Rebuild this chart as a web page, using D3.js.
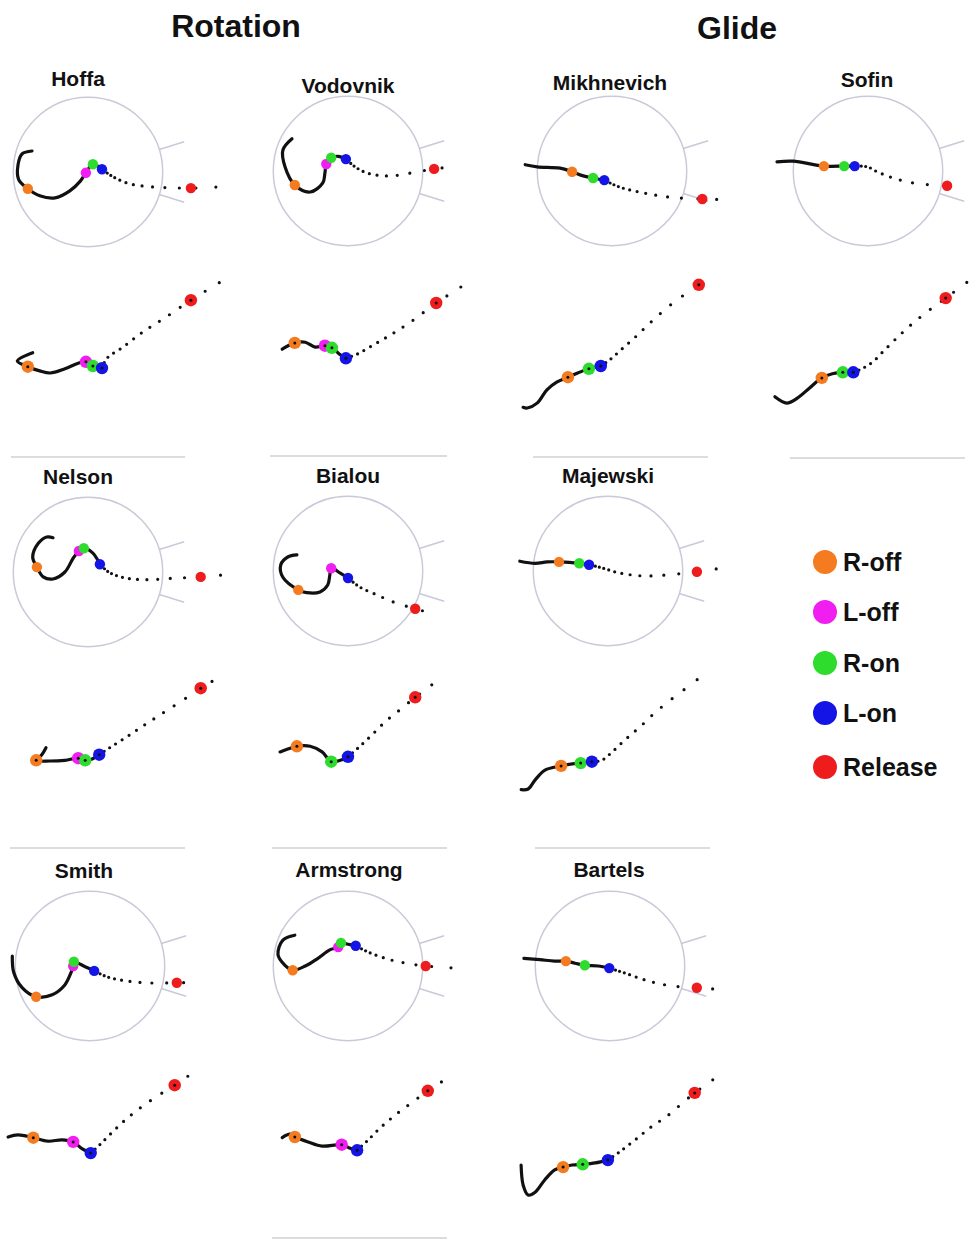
<!DOCTYPE html>
<html>
<head>
<meta charset="utf-8">
<script src="https://cdn.jsdelivr.net/npm/d3@7"></script>
<style>
  body { margin: 0; background: #fff; }
  text { font-family: "Liberation Sans", Arial, sans-serif; font-weight: bold; fill: #111; }
</style>
</head>
<body>
<svg id="chart" width="970" height="1240"></svg>
<script>
// events marked on every trajectory
const eventNames = ["R-off", "L-off", "R-on", "L-on", "Release"];
const eventColors = ["#f47b20", "#f01ef0", "#2ddc2d", "#1414e6", "#ee1c1c"];

const groups = ["Rotation", "Glide"];
const athletes = ["Hoffa", "Vodovnik", "Mikhnevich", "Sofin", "Nelson", "Bialou",
                  "Majewski", "Smith", "Armstrong", "Bartels"];

// shot path, top view: [forward (m), lateral (m)] from the circle centre
const hoffaTop = [[-0.80,-0.30],[-0.94,-0.26],[-1.00,-0.10],[-0.99,0.11],[-0.86,0.24],[-0.69,0.34],[-0.47,0.37],[-0.26,0.27],[-0.11,0.13],[-0.03,0.01],[0.07,-0.11],[0.20,-0.04],[0.36,0.07],[0.60,0.17],[0.89,0.21],[1.47,0.23],[1.91,0.21]];
const vodovnikTop = [[-0.80,-0.46],[-0.93,-0.30],[-0.90,-0.06],[-0.76,0.20],[-0.54,0.30],[-0.36,0.17],[-0.33,0.03],[-0.31,-0.10],[-0.24,-0.19],[-0.14,-0.21],[-0.03,-0.17],[0.13,-0.04],[0.31,0.04],[0.60,0.07],[0.89,0.03],[1.23,-0.03],[1.61,-0.07]];
const mikhnevichTop = [[-1.24,-0.09],[-1.07,-0.06],[-0.74,-0.04],[-0.57,0.01],[-0.41,0.07],[-0.27,0.10],[-0.11,0.13],[0.11,0.23],[0.44,0.31],[0.79,0.37],[1.29,0.40],[1.66,0.41]];
const sofinTop = [[-1.30,-0.13],[-1.07,-0.14],[-0.63,-0.07],[-0.34,-0.07],[-0.19,-0.07],[-0.01,-0.06],[0.13,0.01],[0.36,0.10],[0.64,0.17],[0.93,0.20],[1.13,0.21],[1.31,0.23]];
const nelsonTop = [[-0.50,-0.49],[-0.59,-0.50],[-0.71,-0.41],[-0.79,-0.21],[-0.73,-0.07],[-0.64,0.07],[-0.50,0.10],[-0.33,0.00],[-0.21,-0.20],[-0.13,-0.30],[-0.06,-0.34],[0.07,-0.27],[0.14,-0.17],[0.17,-0.11],[0.31,0.01],[0.56,0.09],[0.84,0.11],[1.21,0.09],[1.61,0.07],[2.06,0.03]];
const bialouTop = [[-0.73,-0.23],[-0.86,-0.20],[-0.96,-0.09],[-0.93,0.09],[-0.71,0.27],[-0.59,0.31],[-0.40,0.30],[-0.29,0.20],[-0.26,0.06],[-0.24,-0.04],[-0.11,0.03],[0.00,0.10],[0.17,0.23],[0.41,0.34],[0.64,0.44],[0.96,0.54],[1.31,0.63]];
const majewskiTop = [[-1.26,-0.14],[-1.04,-0.11],[-0.87,-0.13],[-0.70,-0.13],[-0.41,-0.11],[-0.27,-0.09],[-0.07,-0.04],[0.17,0.03],[0.50,0.07],[0.79,0.06],[1.27,0.01],[1.61,-0.04]];
const smithTop = [[-1.11,-0.14],[-1.09,0.09],[-0.97,0.31],[-0.77,0.44],[-0.54,0.41],[-0.36,0.27],[-0.27,0.09],[-0.24,0.00],[-0.23,-0.06],[-0.09,0.00],[0.06,0.07],[0.26,0.16],[0.50,0.21],[0.79,0.24],[1.24,0.24],[1.61,0.23]];
const armstrongTop = [[-0.76,-0.44],[-0.93,-0.37],[-1.00,-0.16],[-0.90,-0.01],[-0.79,0.06],[-0.61,0.00],[-0.43,-0.11],[-0.26,-0.23],[-0.14,-0.27],[-0.10,-0.33],[0.00,-0.31],[0.11,-0.29],[0.31,-0.19],[0.60,-0.09],[0.89,-0.03],[1.11,0.00],[1.53,0.03]];
const bartelsTop = [[-1.23,-0.11],[-1.00,-0.09],[-0.79,-0.07],[-0.63,-0.07],[-0.50,-0.04],[-0.36,-0.01],[-0.17,0.00],[-0.01,0.03],[0.21,0.10],[0.50,0.20],[0.79,0.27],[1.03,0.30],[1.24,0.31],[1.60,0.34]];

// shot path, side view: [forward (m), height (m)]
const hoffaSide = [[-0.79,1.39],[-1.01,1.27],[-0.86,1.19],[-0.69,1.13],[-0.54,1.10],[-0.33,1.16],[-0.14,1.24],[-0.03,1.26],[0.07,1.20],[0.20,1.17],[0.27,1.31],[0.50,1.47],[0.76,1.67],[1.10,1.89],[1.47,2.14],[1.89,2.40]];
const vodovnikSide = [[-0.94,1.44],[-0.76,1.53],[-0.61,1.54],[-0.47,1.47],[-0.33,1.49],[-0.23,1.46],[-0.11,1.36],[-0.03,1.31],[0.13,1.37],[0.36,1.50],[0.60,1.64],[0.91,1.84],[1.26,2.10],[1.63,2.34]];
const mikhnevichSide = [[-1.27,0.61],[-1.21,0.60],[-1.07,0.67],[-0.93,0.86],[-0.79,0.97],[-0.63,1.04],[-0.49,1.10],[-0.33,1.16],[-0.16,1.20],[-0.03,1.29],[0.16,1.46],[0.33,1.61],[0.57,1.84],[0.87,2.10],[1.24,2.36]];
const sofinSide = [[-1.33,0.76],[-1.16,0.67],[-1.01,0.74],[-0.83,0.89],[-0.66,1.03],[-0.51,1.09],[-0.36,1.11],[-0.21,1.11],[-0.07,1.17],[0.07,1.26],[0.21,1.40],[0.40,1.59],[0.64,1.81],[0.93,2.04],[1.11,2.17],[1.46,2.43]];
const nelsonSide = [[-0.60,1.39],[-0.66,1.29],[-0.74,1.21],[-0.54,1.20],[-0.33,1.21],[-0.14,1.24],[-0.04,1.21],[0.06,1.23],[0.16,1.29],[0.31,1.39],[0.53,1.53],[0.74,1.67],[1.03,1.86],[1.31,2.04],[1.61,2.24],[1.83,2.37]];
const bialouSide = [[-0.97,1.33],[-0.86,1.37],[-0.73,1.41],[-0.54,1.41],[-0.37,1.33],[-0.24,1.19],[-0.11,1.21],[0.00,1.26],[0.17,1.41],[0.34,1.57],[0.53,1.76],[0.74,1.93],[0.96,2.11],[1.14,2.24],[1.31,2.39]];
const majewskiSide = [[-1.24,0.79],[-1.14,0.80],[-1.04,0.93],[-0.90,1.07],[-0.67,1.13],[-0.51,1.16],[-0.39,1.17],[-0.23,1.19],[-0.09,1.21],[0.06,1.33],[0.24,1.50],[0.46,1.69],[0.67,1.89],[0.89,2.07],[1.10,2.23],[1.31,2.39]];
const smithSide = [[-1.17,1.40],[-1.03,1.43],[-0.81,1.39],[-0.60,1.34],[-0.40,1.36],[-0.24,1.33],[-0.11,1.23],[0.01,1.17],[0.14,1.29],[0.31,1.46],[0.50,1.64],[0.71,1.81],[0.97,1.99],[1.21,2.14],[1.43,2.29]];
const armstrongSide = [[-0.94,1.39],[-0.83,1.44],[-0.76,1.40],[-0.57,1.33],[-0.37,1.27],[-0.09,1.29],[0.03,1.24],[0.13,1.21],[0.29,1.36],[0.46,1.53],[0.67,1.71],[0.91,1.89],[1.14,2.06],[1.34,2.19],[1.53,2.31]];
const bartelsSide = [[-1.27,1.00],[-1.24,0.71],[-1.17,0.57],[-1.07,0.61],[-0.93,0.79],[-0.79,0.93],[-0.67,0.97],[-0.54,1.00],[-0.39,1.01],[-0.21,1.03],[-0.03,1.07],[0.14,1.19],[0.36,1.36],[0.57,1.53],[0.83,1.71],[1.04,1.89],[1.21,2.03],[1.60,2.31]];

// index of each event (R-off, L-off, R-on, L-on, Release) in the paths; null = not shown
const topEvents = [[4,9,10,11,15],[3,7,8,10,15],[3,null,5,6,10],[2,null,3,4,10],[4,9,10,13,18],
                   [4,9,null,11,15],[3,null,4,5,10],[3,7,8,10,14],[4,8,9,11,15],[3,null,5,7,12]];
const sideEvents = [[2,7,8,9,14],[1,4,5,7,12],[5,null,7,8,14],[4,null,6,7,14],[2,5,6,8,14],
                    [2,null,5,7,12],[4,null,6,7,null],[2,5,null,7,13],[2,5,null,7,12],[6,null,8,10,16]];

const topPaths = [hoffaTop, vodovnikTop, mikhnevichTop, sofinTop, nelsonTop, bialouTop,
                  majewskiTop, smithTop, armstrongTop, bartelsTop];
const sidePaths = [hoffaSide, vodovnikSide, mikhnevichSide, sofinSide, nelsonSide, bialouSide,
                   majewskiSide, smithSide, armstrongSide, bartelsSide];

const circleRadius = 1.0675;   // m
const sectorHalf = 17.46;      // deg

// ---- layout ----
const pxPerM = 70;
const panels = [
  { cx: 88,  cy: 172, gy: 450,  nx: 78,  ny: 86 },
  { cx: 348, cy: 171, gy: 450,  nx: 348, ny: 93 },
  { cx: 612, cy: 171, gy: 450,  nx: 610, ny: 90 },
  { cx: 868, cy: 171, gy: 450,  nx: 867, ny: 87 },
  { cx: 88,  cy: 572, gy: 845,  nx: 78,  ny: 484 },
  { cx: 348, cy: 571, gy: 845,  nx: 348, ny: 483 },
  { cx: 608, cy: 571, gy: 845,  nx: 608, ny: 483 },
  { cx: 90,  cy: 966, gy: 1235, nx: 84,  ny: 878 },
  { cx: 348, cy: 966, gy: 1235, nx: 349, ny: 877 },
  { cx: 610, cy: 966, gy: 1235, nx: 609, ny: 877 }
];
const separators = [
  [11, 185, 457], [270, 447, 456], [533, 708, 457], [790, 965, 458],
  [10, 185, 848], [272, 447, 848], [535, 710, 848], [272, 447, 1238]
];

const svg = d3.select("#chart");

svg.selectAll("text.group")
  .data(groups)
  .join("text")
  .attr("class", "group")
  .attr("x", (d, i) => i === 0 ? 236 : 737)
  .attr("y", (d, i) => i === 0 ? 37 : 39)
  .attr("text-anchor", "middle")
  .attr("font-size", 32)
  .text(d => d);

svg.selectAll("line.sep")
  .data(separators)
  .join("line")
  .attr("class", "sep")
  .attr("x1", d => d[0]).attr("x2", d => d[1])
  .attr("y1", d => d[2]).attr("y2", d => d[2])
  .attr("stroke", "#dcdcdc")
  .attr("stroke-width", 2);

// dots whose spacing grows along the path, like frames of an accelerating shot;
// the last gap is squeezed so a dot always sits at the path end
function rampDash(path, g0, g1) {
  const L = path.getTotalLength();
  const pos = [0];
  let s = 0;
  while (true) {
    const g = g0 + (g1 - g0) * (s / L);
    if (s + g > L) break;
    s += g;
    pos.push(s);
  }
  if (L - s > 3) pos.push(L);
  const arr = [];
  for (let i = 1; i < pos.length; i++) arr.push(0, pos[i] - pos[i - 1]);
  arr.push(0, 1000);
  return arr.join(",");
}

function drawTrack(g, pts, ev, xs, ys, markerR, gaps, centreDot) {
  const line = d3.line()
    .x(d => xs(d[0]))
    .y(d => ys(d[1]))
    .curve(d3.curveCatmullRom.alpha(0.5));
  const split = ev[3];
  g.append("path")
    .attr("d", line(pts.slice(0, split + 1)))
    .attr("fill", "none")
    .attr("stroke", "#111")
    .attr("stroke-width", 3.2)
    .attr("stroke-linecap", "round")
    .attr("stroke-linejoin", "round");
  const dotted = g.append("path")
    .attr("d", line(pts.slice(split)))
    .attr("fill", "none")
    .attr("stroke", "#111")
    .attr("stroke-width", 3.2)
    .attr("stroke-linecap", "round");
  dotted.attr("stroke-dasharray", rampDash(dotted.node(), gaps[0], gaps[1]));

  const marks = ev.map((idx, k) => ({ idx, k })).filter(d => d.idx !== null);
  g.selectAll("circle.ev" + (centreDot ? "s" : "t"))
    .data(marks)
    .join("circle")
    .attr("cx", d => xs(pts[d.idx][0]))
    .attr("cy", d => ys(pts[d.idx][1]))
    .attr("r", markerR)
    .attr("fill", d => eventColors[d.k]);
  if (centreDot) {
    g.selectAll("circle.ctr")
      .data(marks)
      .join("circle")
      .attr("class", "ctr")
      .attr("cx", d => xs(pts[d.idx][0]))
      .attr("cy", d => ys(pts[d.idx][1]))
      .attr("r", 1.5)
      .attr("fill", "#111");
  }
}

athletes.forEach((name, i) => {
  const p = panels[i];
  const g = svg.append("g");
  const x = d3.scaleLinear().domain([0, 1]).range([p.cx, p.cx + pxPerM]);
  const y = d3.scaleLinear().domain([0, 1]).range([p.cy, p.cy + pxPerM]);
  const z = d3.scaleLinear().domain([0, 1]).range([p.gy, p.gy - pxPerM]);

  g.append("text")
    .attr("x", p.nx).attr("y", p.ny)
    .attr("text-anchor", "middle")
    .attr("font-size", 21)
    .text(name);

  // throwing circle and sector lines
  g.append("circle")
    .attr("cx", x(0)).attr("cy", y(0))
    .attr("r", x(circleRadius) - x(0))
    .attr("fill", "none")
    .attr("stroke", "#c9c9d9")
    .attr("stroke-width", 1.5);
  [-1, 1].forEach(sgn => {
    const a = sgn * sectorHalf * Math.PI / 180;
    g.append("line")
      .attr("x1", x(circleRadius * Math.cos(a))).attr("y1", y(circleRadius * Math.sin(a)))
      .attr("x2", x(1.44 * Math.cos(a))).attr("y2", y(1.44 * Math.sin(a)))
      .attr("stroke", "#c9c9d9")
      .attr("stroke-width", 1.5);
  });

  drawTrack(g, topPaths[i], topEvents[i], x, y, 5.2, [3, 24], false);
  drawTrack(g, sidePaths[i], sideEvents[i], x, z, 6.2, [6, 18], true);
});

// legend
const legend = svg.append("g");
legend.selectAll("circle")
  .data(eventNames)
  .join("circle")
  .attr("cx", 825)
  .attr("cy", (d, i) => [562, 612, 663, 713, 767][i])
  .attr("r", 12)
  .attr("fill", (d, i) => eventColors[i]);
legend.selectAll("text")
  .data(eventNames)
  .join("text")
  .attr("x", 843)
  .attr("y", (d, i) => [562, 612, 663, 713, 767][i] + 9)
  .attr("font-size", 25)
  .text(d => d);
</script>
</body>
</html>
